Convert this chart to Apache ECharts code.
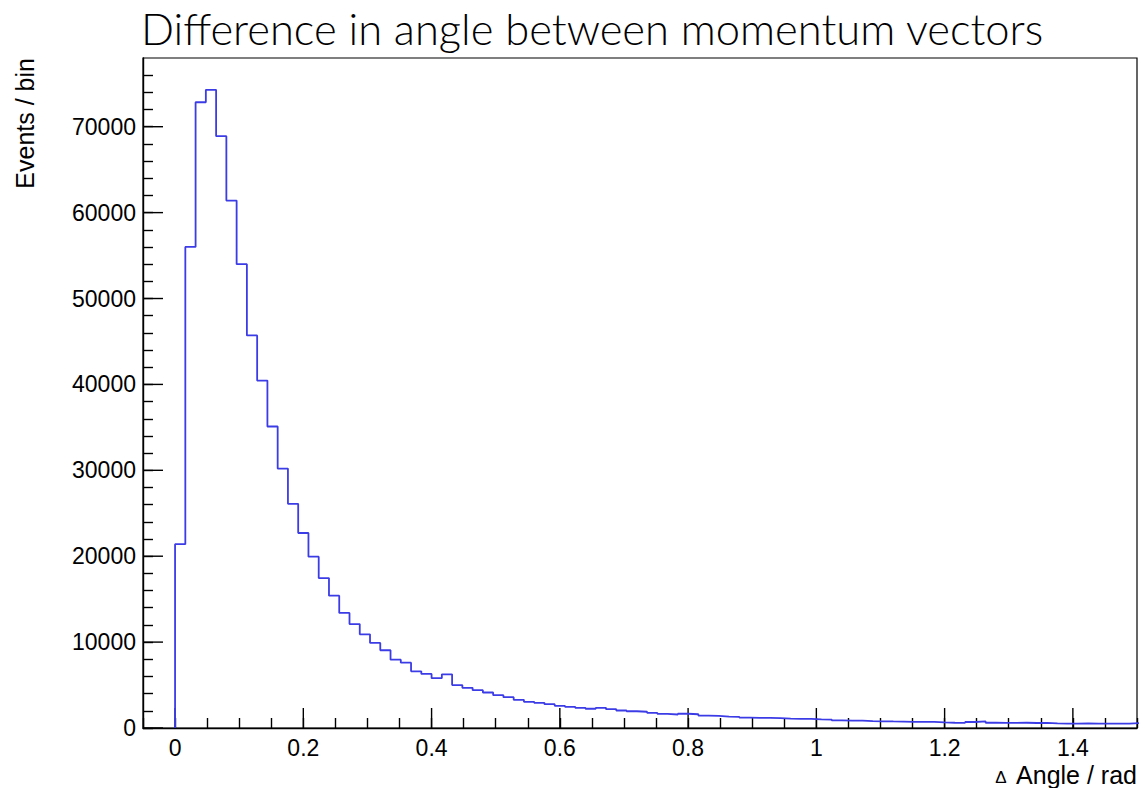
<!DOCTYPE html>
<html>
<head>
<meta charset="utf-8">
<script src="https://cdn.jsdelivr.net/npm/echarts@6/dist/echarts.min.js"></script>
<style>
  html, body { margin: 0; padding: 0; background: #fff; }
  #main { width: 1145px; height: 788px; }
</style>
</head>
<body>
<div id="main"></div>
<script>
// bin width of the histogram (rad)
const binWidth = 0.016
// counts per bin
const counts = [
  21400, 56000, 72850, 74300, 68900, 61400, 54000, 45700, 40450, 35100,
  30200, 26100, 22700, 19950, 17450, 15400, 13400, 12100, 10900, 9900,
  9050, 7950, 7600, 6600, 6300, 5800, 6250, 5000, 4680, 4400,
  4130, 3820, 3590, 3280, 3050, 2930, 2770, 2580, 2470, 2350,
  2240, 2350, 2190, 2040, 1950, 1890, 1770, 1650, 1570, 1660,
  1600, 1450, 1400, 1320, 1290, 1200, 1190, 1180, 1150, 1080,
  1070, 1060, 1000, 980, 880, 870, 860, 800, 780, 760,
  750, 720, 710, 720, 650, 610, 600, 700, 760, 610,
  600, 590, 610, 580, 600, 530, 510, 520, 530, 500,
  510, 520, 500, 560
]
// axis tick labels
const xTicks = [0, 0.2, 0.4, 0.6, 0.8, 1, 1.2, 1.4]
const yTicks = [0, 10000, 20000, 30000, 40000, 50000, 60000, 70000]

const xMin = -0.05
const xMax = 1.5
const yMax = 78000

// histogram outline: left edge of each bin + final right edge
const histPoints = [[0, 0]]
counts.forEach((c, i) => {
  histPoints.push([+(i * binWidth).toFixed(4), c])
})
histPoints.push([+(counts.length * binWidth).toFixed(4), counts[counts.length - 1]])

// small ticks every 0.05 / 2000
const xSmall = []
for (let k = -1; k <= 30; k++) {
  const v = +(k * 0.05).toFixed(3)
  if (v >= xMin && v <= xMax) xSmall.push(v)
}
const ySmall = []
for (let v = 0; v < yMax; v += 2000) ySmall.push(v)

const labelFont = { fontFamily: 'Liberation Sans', fontSize: 23, color: '#000' }
const tickLine = { color: '#000', width: 1.4 }
const plotBox = { left: 143, top: 58, width: 994, height: 670 }
const majorLen = 20

// grid 1: axes that only draw the short tick marks
function tickAxis (pos, min, max, values, len) {
  return {
    type: 'value',
    gridIndex: 1,
    position: pos,
    min: min,
    max: max,
    splitLine: { show: false },
    axisLine: { show: false, onZero: false },
    axisTick: { show: true, inside: true, length: len, customValues: values.slice(), lineStyle: tickLine },
    axisLabel: { show: false }
  }
}

// long ticks at the labelled values, placed through the axis scales
function majorTicks (dir) {
  return function (params, api) {
    const v = api.value(0)
    const p = dir === 'x' ? api.coord([v, 0]) : api.coord([xMin, v])
    const shape = dir === 'x'
      ? { x1: p[0], y1: p[1], x2: p[0], y2: p[1] - majorLen }
      : { x1: p[0], y1: p[1], x2: p[0] + majorLen, y2: p[1] }
    return { type: 'line', shape: shape, style: { stroke: '#000', lineWidth: 1.4 } }
  }
}

const myChart = echarts.init(document.getElementById('main'), null, { renderer: 'svg' })
const option = {
  animation: false,
  backgroundColor: '#fff',
  title: {
    text: 'Difference in angle between momentum vectors',
    left: 136,
    top: 1,
    textStyle: { fontFamily: 'Lato', fontWeight: 300, fontSize: 43.5, color: '#000' }
  },
  grid: [
    Object.assign({ show: true, borderColor: '#000', borderWidth: 1.2 }, plotBox),
    Object.assign({ show: false }, plotBox)
  ],
  xAxis: [
    {
      type: 'value',
      gridIndex: 0,
      position: 'bottom',
      min: xMin,
      max: xMax,
      splitLine: { show: false },
      axisLine: { show: true, onZero: false, lineStyle: tickLine },
      axisTick: { show: false },
      axisLabel: { show: true, margin: 8, customValues: xTicks.slice(), formatter: v => String(v), ...labelFont }
    },
    tickAxis('bottom', xMin, xMax, xSmall, 10)
  ],
  yAxis: [
    {
      type: 'value',
      gridIndex: 0,
      position: 'left',
      min: 0,
      max: yMax,
      splitLine: { show: false },
      axisLine: { show: true, onZero: false, lineStyle: tickLine },
      axisTick: { show: false },
      axisLabel: { show: true, margin: 7, customValues: yTicks.slice(), formatter: v => String(v), ...labelFont }
    },
    tickAxis('left', 0, yMax, ySmall, 10)
  ],
  graphic: [
    {
      type: 'text',
      x: 25,
      y: 58,
      rotation: Math.PI / 2,
      style: {
        text: 'Events / bin',
        align: 'right',
        verticalAlign: 'middle',
        font: '25px "Liberation Sans"',
        fill: '#000'
      }
    },
    {
      type: 'text',
      x: 1137,
      y: 775,
      style: {
        text: 'Angle / rad',
        align: 'right',
        verticalAlign: 'middle',
        font: '25px "Liberation Sans"',
        fill: '#000'
      }
    },
    {
      type: 'text',
      x: 1001,
      y: 786,
      style: {
        text: 'Δ',
        align: 'center',
        verticalAlign: 'bottom',
        font: '17px "Liberation Sans"',
        fill: '#000'
      }
    }
  ],
  series: [
    {
      name: 'dAngle',
      type: 'line',
      step: 'end',
      xAxisIndex: 0,
      yAxisIndex: 0,
      symbol: 'none',
      clip: true,
      lineStyle: { color: '#3c3ce6', width: 1.8 },
      data: histPoints
    },
    {
      name: 'xMajor',
      type: 'custom',
      xAxisIndex: 0,
      yAxisIndex: 0,
      clip: false,
      silent: true,
      renderItem: majorTicks('x'),
      data: xTicks.map(v => [v])
    },
    {
      name: 'yMajor',
      type: 'custom',
      xAxisIndex: 0,
      yAxisIndex: 0,
      clip: false,
      silent: true,
      encode: { x: 0, y: 0 },
      renderItem: majorTicks('y'),
      data: yTicks.map(v => [v])
    }
  ]
}
myChart.setOption(option)
</script>
</body>
</html>
